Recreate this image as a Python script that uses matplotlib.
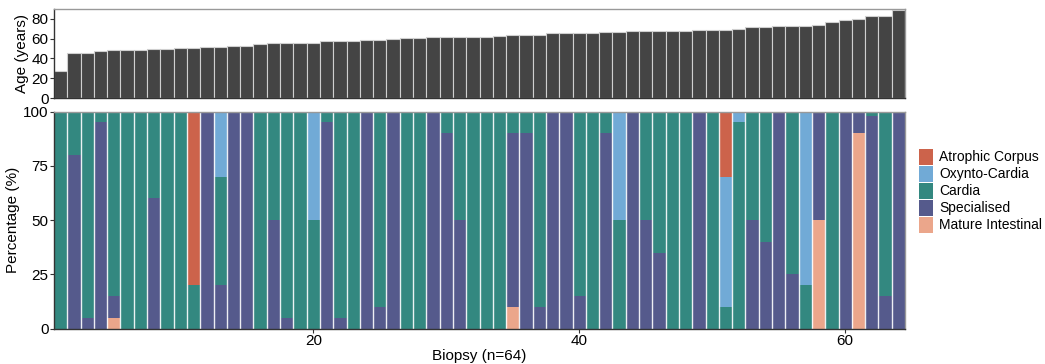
import matplotlib
matplotlib.use("Agg")
import matplotlib.pyplot as plt
import numpy as np
from matplotlib.patches import Patch

plt.rcParams['font.family'] = ['Liberation Sans', 'DejaVu Sans']

biopsy = np.arange(1, 65)
age = [27, 45, 45, 48, 49, 49, 49, 50, 50, 51, 51, 52, 52, 53, 53, 55,
       56, 56, 56, 56, 58, 58, 58, 59, 59, 60, 61, 61, 62, 62, 62, 62,
       62, 63, 64, 64, 64, 66, 66, 66, 66, 67, 67, 68, 68, 68, 68, 68,
       69, 69, 69, 70, 72, 72, 73, 73, 73, 74, 77, 79, 80, 83, 83, 89]

mature = [0, 0, 0, 0, 5, 0, 0, 0, 0, 0, 0, 0, 0, 0, 0, 0,
          0, 0, 0, 0, 0, 0, 0, 0, 0, 0, 0, 0, 0, 0, 0, 0,
          0, 0, 10, 0, 0, 0, 0, 0, 0, 0, 0, 0, 0, 0, 0, 0,
          0, 0, 0, 0, 0, 0, 0, 0, 0, 50, 0, 0, 90, 0, 0, 0]
specialised = [0, 80, 5, 95, 10, 0, 0, 60, 0, 0, 0, 100, 20, 100, 100, 0,
               50, 5, 0, 0, 95, 5, 0, 100, 10, 100, 0, 0, 100, 90, 50, 0,
               0, 0, 80, 90, 10, 100, 100, 15, 0, 90, 0, 100, 50, 35, 0, 0,
               100, 0, 0, 0, 50, 40, 100, 25, 0, 50, 0, 100, 10, 98, 15, 100]
cardia = [100, 20, 95, 5, 85, 100, 100, 40, 100, 100, 20, 0, 50, 0, 0, 100,
          50, 95, 100, 50, 5, 95, 100, 0, 90, 0, 100, 100, 0, 10, 50, 100,
          100, 100, 10, 10, 90, 0, 0, 85, 100, 10, 50, 0, 50, 65, 100, 100,
          0, 100, 10, 95, 50, 60, 0, 75, 20, 0, 100, 0, 0, 2, 85, 0]
oxynto = [0, 0, 0, 0, 0, 0, 0, 0, 0, 0, 0, 0, 30, 0, 0, 0,
          0, 0, 0, 50, 0, 0, 0, 0, 0, 0, 0, 0, 0, 0, 0, 0,
          0, 0, 0, 0, 0, 0, 0, 0, 0, 0, 50, 0, 0, 0, 0, 0,
          0, 0, 60, 5, 0, 0, 0, 0, 80, 0, 0, 0, 0, 0, 0, 0]
atrophic = [0, 0, 0, 0, 0, 0, 0, 0, 0, 0, 80, 0, 0, 0, 0, 0,
            0, 0, 0, 0, 0, 0, 0, 0, 0, 0, 0, 0, 0, 0, 0, 0,
            0, 0, 0, 0, 0, 0, 0, 0, 0, 0, 0, 0, 0, 0, 0, 0,
            0, 0, 30, 0, 0, 0, 0, 0, 0, 0, 0, 0, 0, 0, 0, 0]

categories = ['Mature Intestinal', 'Specialised', 'Cardia', 'Oxynto-Cardia', 'Atrophic Corpus']
series = [mature, specialised, cardia, oxynto, atrophic]
colors = ['#EBA68B', '#555A8C', '#338880', '#71AAD6', '#CC634B']

fig = plt.figure(figsize=(10.45, 3.64), dpi=100)
W, H = 1045, 364
L, R = 54, 905
ax1 = fig.add_axes([L / W, 1 - 98 / H, (R - L) / W, (98 - 9) / H])
ax2 = fig.add_axes([L / W, 1 - 328.5 / H, (R - L) / W, (328.5 - 111.5) / H])

ax1.bar(biopsy, age, width=1.0, color='#444444', edgecolor='#cfcfcf', linewidth=0.8)
ax1.set_xlim(0.5, 64.5)
ax1.set_ylim(0, 90)
ax1.set_yticks([0, 20, 40, 60, 80])
ax1.set_xticks([])
ax1.set_ylabel('Age (years)', fontsize=11, labelpad=2)

bottom = np.zeros(64)
for name, vals, col in zip(categories, series, colors):
    v = np.array(vals, dtype=float)
    ax2.bar(biopsy, v, bottom=bottom, width=1.0, color=col, edgecolor='none', linewidth=0)
    bottom += v
# white separators between bars
for x in biopsy[:-1]:
    ax2.axvline(x + 0.5, color='white', lw=1.0, alpha=0.9)
ax2.set_xlim(0.5, 64.5)
ax2.set_ylim(0, 100)
ax2.set_yticks([0, 25, 50, 75, 100])
ax2.set_xticks([20, 40, 60])
ax2.set_ylabel('Percentage (%)', fontsize=11, labelpad=2)
ax2.set_xlabel('Biopsy (n=64)', fontsize=11, labelpad=1)

for ax in (ax1, ax2):
    ax.tick_params(labelsize=11, length=3, width=0.8, color='#333333', pad=1)
    for s in ['left', 'bottom']:
        ax.spines[s].set_color('#333333')
        ax.spines[s].set_linewidth(1.0)
    for s in ['top', 'right']:
        ax.spines[s].set_color('#999999')
        ax.spines[s].set_linewidth(1.0)

handles = [Patch(facecolor=c, edgecolor='none', label=n)
           for n, c in zip(categories[::-1], colors[::-1])]
fig.legend(handles=handles, loc='upper left', bbox_to_anchor=(919 / W, 1 - 149 / H),
           frameon=False, fontsize=10, handlelength=1.0, handleheight=1.35,
           handletextpad=0.45, labelspacing=0.1, borderaxespad=0, borderpad=0)

fig.savefig('out.png', dpi=100)
